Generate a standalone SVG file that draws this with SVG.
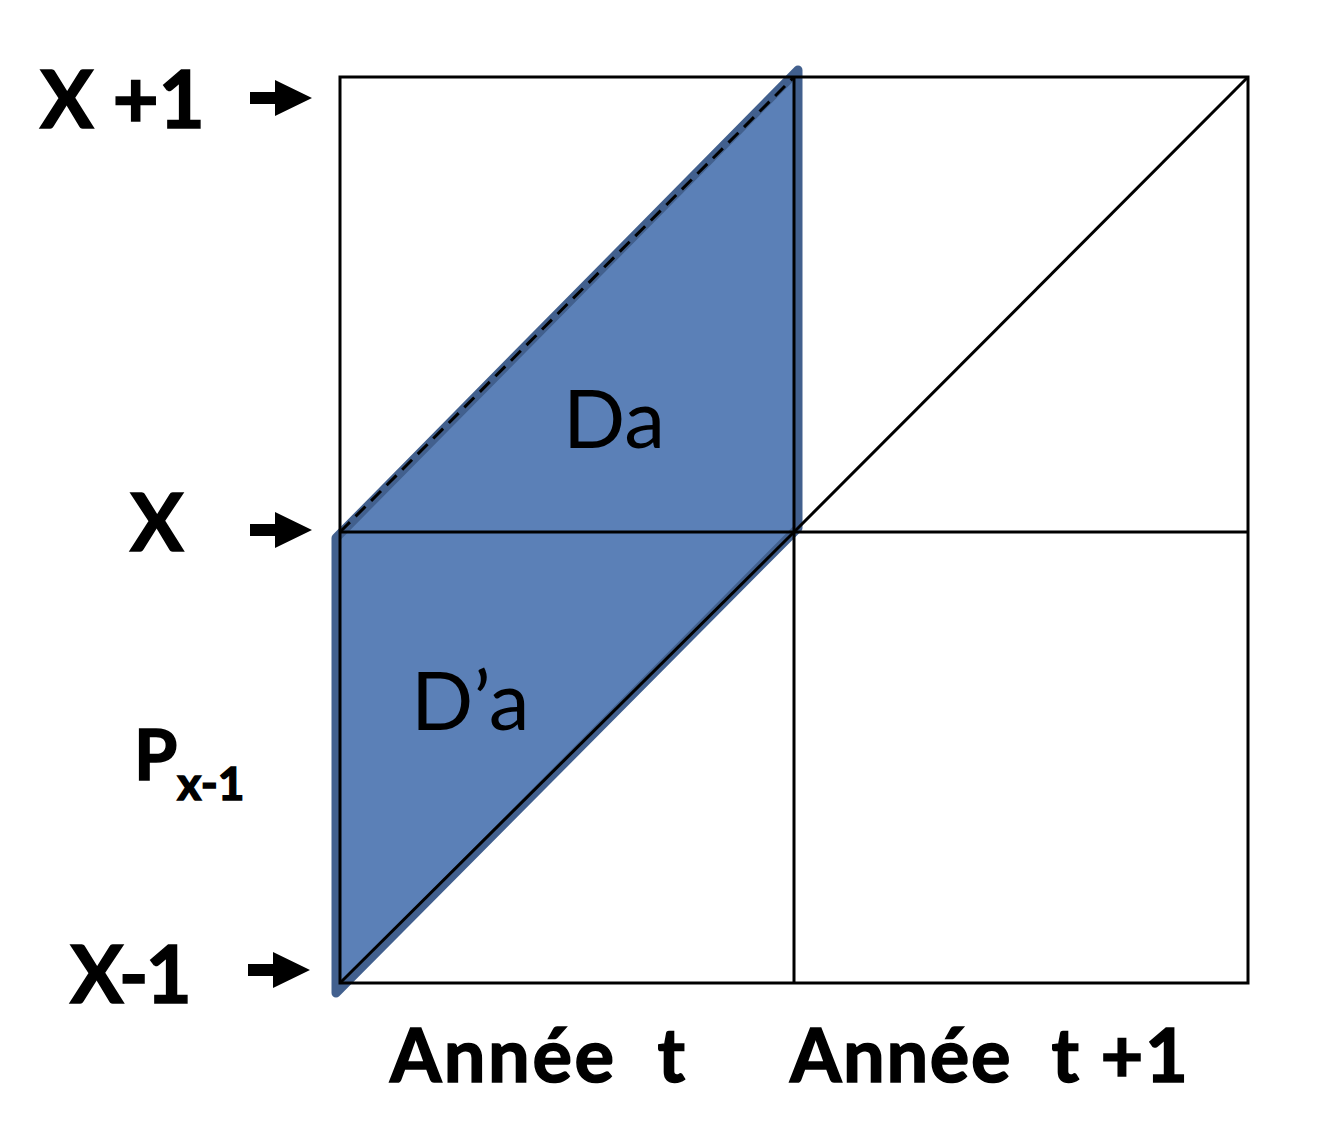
<svg xmlns="http://www.w3.org/2000/svg" width="1320" height="1136" viewBox="0 0 1320 1136">
<style>
.lbl{font-family:Lato,"Open Sans","Liberation Sans",sans-serif;font-weight:bold;fill:#000;stroke:#000;stroke-width:1.5}
.reg{font-family:Lato,"Open Sans","Liberation Sans",sans-serif;font-weight:normal;fill:#000}
.grid{stroke:#000;stroke-width:3;fill:none}
</style>
<defs>
<path id="arr" d="M0,-6 L25,-6 L25,-18 L62,0 L25,18 L25,6 L0,6 Z" fill="#000"/>
</defs>
<rect width="1320" height="1136" fill="#fff"/>
<g id="shape">
<polygon points="336,538 798,70 798,528 336,993" fill="#5B80B7" stroke="#42608E" stroke-width="9" stroke-linejoin="round"/>
</g>
<g id="connectors">
<rect class="grid" x="340" y="77" width="908" height="906"/>
<line class="grid" x1="794" y1="77" x2="794" y2="983"/>
<line class="grid" x1="340" y1="532" x2="1248" y2="532"/>
<line class="grid" x1="340" y1="983" x2="794" y2="532"/>
<line class="grid" x1="794" y1="532" x2="1248" y2="77"/>
<line class="grid" x1="340" y1="532" x2="794" y2="77" stroke-dasharray="14,8"/>
</g>
<g id="arrows">
<use href="#arr" x="250" y="98"/>
<use href="#arr" x="250" y="530"/>
<use href="#arr" x="248" y="970"/>
</g>
<g id="labels">
<text class="lbl" x="40" y="128" font-size="80" textLength="165">X +1</text>
<text class="lbl" x="130" y="551" font-size="80">X</text>
<text class="lbl" x="70" y="1003" font-size="80" textLength="122">X-1</text>
<text class="lbl" x="134" y="780" font-size="70">P<tspan font-size="46" dy="20">x-1</tspan></text>
<text class="reg" x="563" y="448" font-size="82">Da</text>
<text class="reg" x="411" y="730" font-size="82">D’a</text>
<text class="lbl" x="390" y="1082" font-size="74" xml:space="preserve" textLength="295">Année  t</text>
<text class="lbl" x="790" y="1082" font-size="74" xml:space="preserve" textLength="398">Année  t +1</text>
</g>
</svg>
